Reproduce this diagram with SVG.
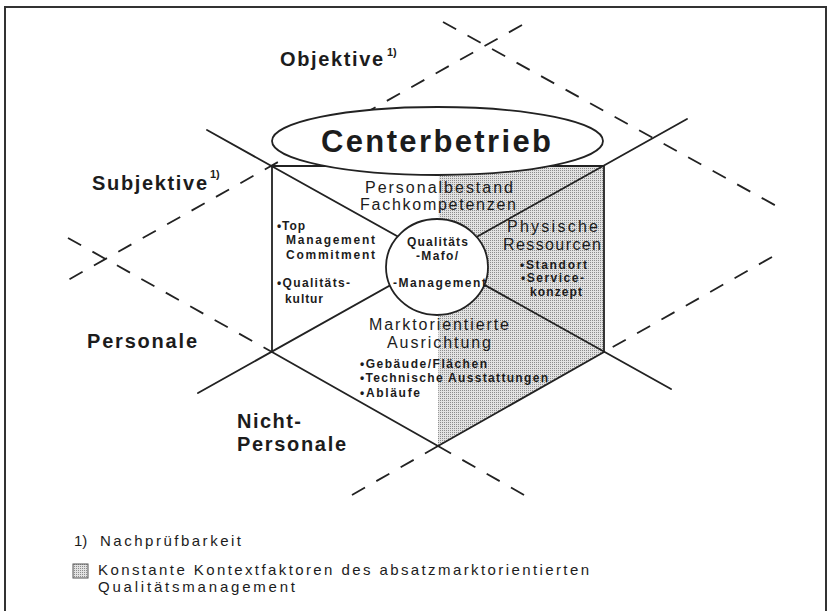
<svg xmlns="http://www.w3.org/2000/svg" width="829" height="611" viewBox="0 0 829 611">
<defs>
<pattern id="stip" width="2" height="2" patternUnits="userSpaceOnUse">
<rect width="2" height="2" fill="#e2e2e2"/>
<rect width="1" height="1" fill="#8c8c8c"/>
</pattern>
<style>
.ln{stroke:#222;stroke-width:1.8;fill:none;stroke-linecap:round}
.ds{stroke:#222;stroke-width:1.8;fill:none;stroke-dasharray:15 13}
text{font-family:"Liberation Sans",Arial,Helvetica,sans-serif;fill:#1c1c1c}
.big{font-size:20px;font-weight:bold}
.sup{font-size:11px;font-weight:bold}
.reg{font-size:16px}
.sm{font-size:12px;font-weight:bold}
.leg{font-size:15px}
</style>
</defs>
<rect width="829" height="611" fill="#fff"/>
<path d="M5,611 V7 H826 V611" fill="none" stroke="#333" stroke-width="2"/>
<polygon id="shade" points="439,166 604,166 604,352 438,446" fill="url(#stip)"/>
<g id="connectors">
<line class="ds" x1="443" y1="22" x2="780" y2="208"/>
<line class="ds" x1="522" y1="25" x2="68" y2="280"/>
<line class="ds" x1="68" y1="238" x2="272" y2="352"/>
<line class="ds" x1="772" y1="257" x2="604" y2="352"/>
<line class="ds" x1="438" y1="446" x2="531" y2="499"/>
<line class="ds" x1="438" y1="446" x2="345" y2="499"/>
<path class="ln" d="M272,352 V166 H604 V352"/>
<line class="ln" x1="207" y1="130" x2="671" y2="389"/>
<line class="ln" x1="687" y1="119" x2="198" y2="393"/>
<polyline class="ln" points="272,352 438,446 604,352"/>
</g>
<g id="centerbetrieb">
<ellipse cx="437.5" cy="141" rx="165.5" ry="34" fill="#fff" stroke="#222" stroke-width="1.8"/>
<text x="321" y="152" font-size="31" font-weight="bold" textLength="230" lengthAdjust="spacing">Centerbetrieb</text>
</g>
<g id="qualitaet">
<ellipse cx="437" cy="267" rx="51" ry="48" fill="#fff" stroke="#222" stroke-width="1.8"/>
<text class="sm" x="407" y="246" textLength="61" lengthAdjust="spacing">Qualitäts</text>
<text class="sm" x="416" y="260" textLength="42" lengthAdjust="spacing">-Mafo/</text>
<text class="sm" x="393" y="287" textLength="93" lengthAdjust="spacing">-Management</text>
</g>
<g id="personalbestand">
<text class="reg" x="365" y="193" textLength="148" lengthAdjust="spacing">Personalbestand</text>
<text class="reg" x="360" y="210" textLength="156" lengthAdjust="spacing">Fachkompetenzen</text>
</g>
<g id="physische">
<text class="reg" x="507" y="232" textLength="91" lengthAdjust="spacing">Physische</text>
<text class="reg" x="503" y="250" textLength="98" lengthAdjust="spacing">Ressourcen</text>
<text class="sm" x="520" y="268.5" textLength="67" lengthAdjust="spacing">•Standort</text>
<text class="sm" x="521" y="282" textLength="63" lengthAdjust="spacing">•Service-</text>
<text class="sm" x="530" y="295.5" textLength="52" lengthAdjust="spacing">konzept</text>
</g>
<g id="top-management">
<text class="sm" x="277" y="230" textLength="28" lengthAdjust="spacing">•Top</text>
<text class="sm" x="286" y="244" textLength="89" lengthAdjust="spacing">Management</text>
<text class="sm" x="286" y="258.5" textLength="89" lengthAdjust="spacing">Commitment</text>
<text class="sm" x="277" y="287" textLength="73" lengthAdjust="spacing">•Qualitäts-</text>
<text class="sm" x="285" y="303" textLength="38" lengthAdjust="spacing">kultur</text>
</g>
<g id="marktorientierte">
<text class="reg" x="369" y="330" textLength="140" lengthAdjust="spacing">Marktorientierte</text>
<text class="reg" x="387" y="348" textLength="104" lengthAdjust="spacing">Ausrichtung</text>
<text class="sm" x="360" y="367.5" textLength="127" lengthAdjust="spacing">•Gebäude/Flächen</text>
<text class="sm" x="360" y="382" textLength="188" lengthAdjust="spacing">•Technische  Ausstattungen</text>
<text class="sm" x="360" y="397" textLength="60" lengthAdjust="spacing">•Abläufe</text>
</g>
<g id="objektive">
<text><tspan class="big" x="280" y="66" textLength="103" lengthAdjust="spacing">Objektive</tspan><tspan class="sup" x="387" y="56">1)</tspan></text>
</g>
<g id="subjektive">
<text><tspan class="big" x="92" y="190" textLength="115" lengthAdjust="spacing">Subjektive</tspan><tspan class="sup" x="210" y="178">1)</tspan></text>
</g>
<g id="personale">
<text class="big" x="87" y="348" textLength="110" lengthAdjust="spacing">Personale</text>
</g>
<g id="nicht-personale">
<text class="big"><tspan x="237" y="428" textLength="64" lengthAdjust="spacing">Nicht-</tspan><tspan x="237" y="451" textLength="109" lengthAdjust="spacing">Personale</tspan></text>
</g>
<g id="legend">
<text class="leg"><tspan x="74" y="546">1) </tspan><tspan x="100" y="546" textLength="141" lengthAdjust="spacing">Nachprüfbarkeit</tspan></text>
<rect x="73" y="564" width="15" height="14" fill="url(#stip)" stroke="#555" stroke-width="1"/>
<text class="leg"><tspan x="98" y="575" textLength="491" lengthAdjust="spacing">Konstante Kontextfaktoren des absatzmarktorientierten</tspan><tspan x="98" y="592" textLength="197" lengthAdjust="spacing">Qualitätsmanagement</tspan></text>
</g>
</svg>
